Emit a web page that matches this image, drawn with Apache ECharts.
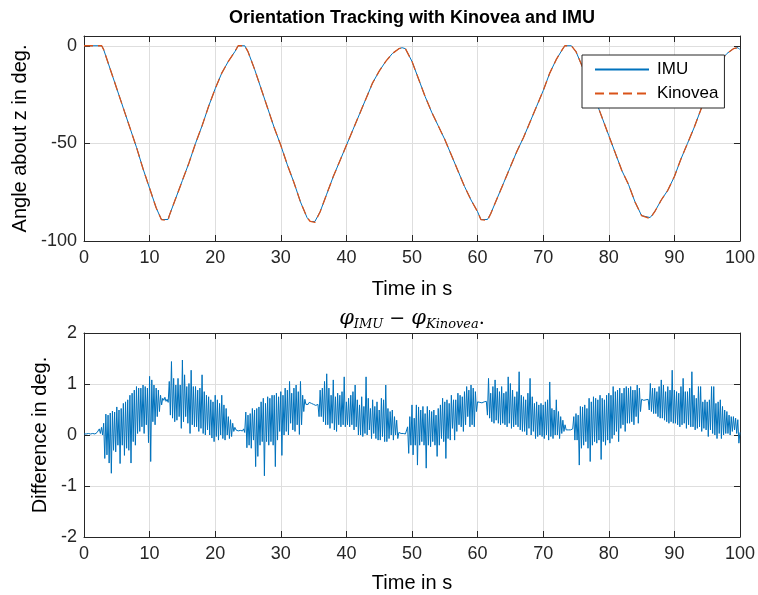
<!DOCTYPE html>
<html>
<head>
<meta charset="utf-8">
<script src="https://cdn.jsdelivr.net/npm/echarts@6/dist/echarts.min.js"></script>
<style>
  html, body { margin: 0; padding: 0; background: #fff; }
  #chart { width: 758px; height: 595px; }
</style>
</head>
<body>
<div id="chart"></div>
<script>
// orientation about z (time in s, angle in deg)
var angleTimes = [0, 2.7, 3, 4, 5, 6, 7, 8, 9, 10, 11, 11.8, 12.8, 13, 14, 15, 16, 17, 18, 19,
	20, 21, 22, 23, 23.5, 24.5, 25, 26, 27, 28, 29, 30, 31, 32, 33, 34, 34.5, 35.2, 36, 37,
	38, 39, 40, 41, 42, 43, 44, 45, 46, 47, 48, 48.5, 49, 50, 51, 52, 53, 54, 55, 56,
	57, 58, 59, 60, 60.5, 61.5, 62, 63, 64, 65, 66, 67, 68, 69, 70, 71, 72, 73, 73.3, 74.3,
	75, 76, 77, 78, 79, 80, 81, 82, 83, 84, 85, 86.3, 87, 88, 89, 90, 91, 92, 93, 94,
	95, 96, 97, 98, 99, 99.7, 100];
var imuAngle = [0, 0, -2, -12, -22, -32, -42, -52, -63, -73, -83, -89, -89, -87, -78, -69, -60, -50, -41, -31,
	-22, -14, -8, -3, 0, 0, -3, -12, -22, -32, -42, -51, -61, -70, -80, -88, -90, -90, -85, -76,
	-67, -59, -51, -43, -35, -27, -19, -13, -8, -4, -1.5, -1, -1.5, -8, -17, -26, -34, -41, -48, -56,
	-64, -72, -79, -85, -89, -89, -86, -78, -70, -62, -54, -47, -39, -31, -23, -14, -7, -1.5, 0, 0,
	-3, -11, -19, -28, -37, -46, -55, -64, -71, -80, -87, -88, -85, -79, -74, -67, -58, -50, -42, -33,
	-24, -15, -8, -4, -1.5, -1, -2];
var kinoveaAngle = [0, 0, -2, -12, -22, -32, -42, -52, -63, -73, -83, -89, -89.5, -87, -78, -69, -60, -50, -41, -31,
	-22, -14, -8, -3, 0, 0, -3, -12, -22, -32, -42, -51, -61, -70, -80, -88, -90, -90.5, -85, -76,
	-67, -59, -51, -43, -35, -27, -19, -13, -8, -4, -1.5, -1, -1.5, -8, -17, -26, -34, -41, -48, -56,
	-64, -72, -79, -85, -89, -89.5, -86, -78, -70, -62, -54, -47, -39, -31, -23, -14, -7, -1.5, 0, 0,
	-3, -11, -19, -28, -37, -46, -55, -64, -71, -80, -87, -88.5, -85, -79, -74, -67, -58, -50, -42, -33,
	-24, -15, -8, -4, -1.5, -1, -2];

// difference IMU - Kinovea, 6 samples per second, one row per second
var diffRate = 6;
var diffRows = [
	[0.02, 0.03, 0.02, 0.02, 0.03, 0.02],
	[0.02, 0.02, 0.03, 0.02, 0.02, 0.03],
	[0.05, 0.02, 0.12, 0.03, 0.15, 0.0],
	[0.23, -0.46, 0.41, -0.39, 0.39, -0.55],
	[0.43, -0.75, 0.47, -0.3, 0.45, -0.33],
	[0.55, -0.2, 0.49, -0.56, 0.52, -0.2],
	[0.62, -0.4, 0.65, -0.26, 0.69, -0.3],
	[0.78, -0.55, 0.82, -0.13, 0.88, -0.2],
	[0.95, 0.03, 0.92, 0.07, 0.92, 0.16],
	[0.98, 0.03, 0.95, 0.2, 0.92, -0.15],
	[1.15, -0.52, 1.08, 0.26, 0.98, 0.2],
	[0.92, 0.36, 0.88, 0.46, 0.78, 0.59],
	[0.72, 0.68, 0.74, 0.66, 0.7, 0.64],
	[1.05, 0.39, 1.44, 0.33, 1.11, 0.26],
	[0.98, 0.29, 1.11, 0.36, 0.98, 0.13],
	[1.47, 0.26, 1.18, 0.36, 0.95, 0.23],
	[1.01, 0.03, 1.27, 0.2, 0.95, 0.16],
	[0.95, 0.16, 0.88, 0.07, 0.92, 0.13],
	[1.18, 0.03, 0.85, 0.0, 0.78, 0.1],
	[0.75, 0.0, 0.69, -0.06, 0.65, -0.13],
	[0.78, -0.03, 0.69, -0.1, 0.62, 0.0],
	[0.78, -0.07, 0.59, -0.1, 0.52, 0.0],
	[0.36, -0.07, 0.3, -0.03, 0.23, 0.07],
	[0.15, 0.1, 0.1, 0.08, 0.1, 0.09],
	[0.1, 0.08, 0.12, 0.05, 0.45, -0.25],
	[0.39, -0.2, 0.42, -0.26, 0.52, -0.1],
	[0.49, -0.62, 0.52, -0.42, 0.55, -0.2],
	[0.65, -0.13, 0.72, -0.8, 0.62, -0.13],
	[0.75, -0.2, 0.72, -0.13, 0.78, -0.2],
	[0.78, -0.62, 0.82, -0.1, 0.75, 0.07],
	[0.85, -0.4, 0.78, 0.0, 0.92, 0.07],
	[0.88, 0.0, 1.05, 0.23, 0.82, 0.1],
	[0.92, 0.07, 0.98, 0.2, 0.85, 0.01],
	[1.05, 0.2, 0.78, 0.46, 0.7, 0.6],
	[0.62, 0.6, 0.64, 0.61, 0.62, 0.63],
	[0.6, 0.62, 0.58, 0.61, 0.6, 0.36],
	[0.88, 0.36, 0.92, 0.26, 1.05, 0.2],
	[1.2, 0.2, 0.92, 0.13, 0.78, 0.23],
	[1.08, 0.1, 0.75, 0.07, 0.82, 0.2],
	[0.78, 0.16, 0.85, 0.2, 1.14, 0.16],
	[0.65, 0.2, 0.72, 0.16, 0.78, 0.2],
	[0.85, 0.1, 0.98, 0.16, 0.69, 0.0],
	[0.59, 0.0, 0.75, -0.03, 0.56, 0.03],
	[1.14, 0.0, 0.72, 0.1, 0.52, -0.07],
	[0.69, 0.03, 0.56, -0.07, 0.65, -0.1],
	[0.49, -0.1, 0.72, -0.03, 0.69, -0.13],
	[0.98, -0.13, 0.52, -0.07, 0.46, 0.0],
	[0.49, -0.1, 0.36, 0.0, 0.29, -0.07],
	[0.05, 0.02, 0.03, 0.02, 0.03, 0.02],
	[0.02, 0.03, 0.16, -0.36, 0.36, -0.2],
	[0.59, -0.39, 0.33, -0.2, 0.59, -0.59],
	[0.55, -0.2, 0.49, -0.13, 0.56, -0.2],
	[0.42, -0.65, 0.56, -0.2, 0.49, -0.23],
	[0.46, -0.13, 0.49, -0.2, 0.39, -0.42],
	[0.52, -0.2, 0.59, -0.07, 0.72, -0.13],
	[0.65, -0.46, 0.69, -0.07, 0.62, -0.1],
	[0.78, 0.13, 0.69, -0.1, 0.69, 0.07],
	[0.82, 0.2, 0.78, 0.16, 0.75, 0.07],
	[0.85, 0.2, 0.95, 0.36, 0.88, 0.16],
	[0.98, 0.2, 0.92, 0.16, 0.85, 0.46],
	[0.65, 0.63, 0.64, 0.62, 0.63, 0.64],
	[0.65, 0.63, 0.66, 0.39, 1.11, 0.33],
	[0.82, 0.26, 0.95, 0.23, 1.08, 0.29],
	[0.92, 0.23, 0.85, 0.2, 0.95, 0.23],
	[0.82, 0.2, 0.85, 0.16, 1.14, 0.23],
	[1.01, 0.13, 0.88, 0.16, 0.75, 0.2],
	[0.85, 0.16, 1.24, 0.1, 0.78, 0.07],
	[0.75, 0.07, 0.69, 0.0, 0.82, 0.13],
	[1.11, 0.0, 0.75, 0.07, 0.62, -0.07],
	[0.65, -0.03, 0.59, 0.0, 0.62, -0.03],
	[0.59, -0.07, 0.65, 0.0, 0.69, -0.1],
	[1.04, -0.03, 0.52, -0.07, 0.49, 0.0],
	[0.69, 0.0, 0.46, -0.07, 0.36, 0.03],
	[0.29, 0.07, 0.2, 0.1, 0.12, 0.1],
	[0.12, 0.1, 0.11, 0.12, 0.36, -0.1],
	[0.42, -0.1, 0.39, -0.59, 0.56, -0.26],
	[0.55, -0.2, 0.59, -0.13, 0.52, -0.26],
	[0.72, -0.52, 0.65, -0.2, 0.75, -0.13],
	[0.72, -0.16, 0.69, -0.1, 0.78, -0.48],
	[0.72, -0.13, 0.69, -0.2, 0.78, -0.1],
	[0.82, -0.16, 0.78, -0.07, 0.95, 0.0],
	[0.85, 0.07, 0.88, -0.13, 0.92, 0.13],
	[0.82, 0.2, 0.92, 0.07, 0.95, 0.23],
	[0.92, 0.23, 0.95, 0.26, 0.88, 0.2],
	[0.88, 0.36, 0.98, 0.23, 0.92, 0.46],
	[0.7, 0.69, 0.68, 0.7, 0.69, 0.68],
	[0.7, 0.49, 1.01, 0.46, 0.92, 0.42],
	[0.92, 0.42, 0.85, 0.36, 0.95, 0.33],
	[1.08, 0.33, 0.98, 0.29, 0.85, 0.26],
	[0.95, 0.23, 0.88, 0.26, 1.27, 0.23],
	[0.88, 0.23, 0.85, 0.2, 0.82, 0.16],
	[0.95, 0.2, 1.11, 0.23, 0.85, 0.13],
	[0.85, 0.2, 0.92, 0.16, 1.24, 0.16],
	[0.78, 0.1, 0.72, 0.13, 0.95, 0.16],
	[0.95, 0.07, 0.65, 0.13, 0.69, 0.1],
	[0.65, -0.03, 0.69, 0.1, 0.95, 0.03],
	[0.95, 0.0, 0.62, -0.07, 0.65, 0.03],
	[0.69, -0.07, 0.56, 0.0, 0.49, 0.03],
	[0.46, 0.03, 0.39, 0.0, 0.36, 0.07],
	[0.36, 0.1, 0.33, 0.03, 0.3, -0.16]
];
var diffEnd = 0.05;

var xTicks = { min: 0, max: 100, interval: 10 };
var angleTicks = { min: -100, max: 5, interval: 50 };
var diffTicks = { min: -2, max: 2, interval: 1 };

var font = "'Liberation Sans', Arial, Helvetica, sans-serif";
var serif = "'DejaVu Serif', 'Liberation Serif', serif";
var ink = '#262626';
var gridColor = '#dedede';

var zip = function(xs, ys) {
	var out = [];
	for (var i = 0; i < xs.length; i++) out.push([xs[i], ys[i]]);
	return out;
};

var diffData = [];
for (var s = 0; s < diffRows.length; s++) {
	for (var k = 0; k < diffRows[s].length; k++) {
		diffData.push([s + k / diffRate, diffRows[s][k]]);
	}
}
diffData.push([diffRows.length, diffEnd]);

var axisLine = { show: true, onZero: false, lineStyle: { color: ink, width: 1 } };
var axisTick = { show: true, inside: true, length: 6, lineStyle: { color: ink, width: 1 } };

var bottomAxis = function(grid, name, gap) {
	return {
		gridIndex: grid, type: 'value', position: 'bottom',
		min: xTicks.min, max: xTicks.max, interval: xTicks.interval,
		name: name, nameLocation: 'middle', nameGap: gap,
		nameTextStyle: { fontFamily: font, fontSize: 20, color: '#000' },
		axisLine: axisLine, axisTick: axisTick,
		axisLabel: { fontFamily: font, fontSize: 18, color: ink, margin: 8 },
		splitLine: { show: true, lineStyle: { color: gridColor, width: 1 } }
	};
};
var topAxis = function(grid) {
	return {
		gridIndex: grid, type: 'value', position: 'top',
		min: xTicks.min, max: xTicks.max, interval: xTicks.interval,
		axisLine: axisLine, axisTick: axisTick,
		axisLabel: { show: false }, splitLine: { show: false }
	};
};
var leftAxis = function(grid, t, name, gap) {
	return {
		gridIndex: grid, type: 'value', position: 'left',
		min: t.min, max: t.max, interval: t.interval,
		name: name, nameLocation: 'middle', nameGap: gap,
		nameTextStyle: { fontFamily: font, fontSize: 20, color: '#000' },
		axisLine: axisLine, axisTick: axisTick,
		axisLabel: {
			fontFamily: font, fontSize: 18, color: ink, margin: 7,
			formatter: function(v) { return v % t.interval === 0 ? String(v) : ''; }
		},
		splitLine: { show: true, lineStyle: { color: gridColor, width: 1 } }
	};
};
var rightAxis = function(grid, t) {
	return {
		gridIndex: grid, type: 'value', position: 'right',
		min: t.min, max: t.max, interval: t.interval,
		axisLine: axisLine, axisTick: axisTick,
		axisLabel: { show: false }, splitLine: { show: false }
	};
};

var chart = echarts.init(document.getElementById('chart'), null, { renderer: 'canvas' });

var option = {
	animation: false,
	backgroundColor: '#fff',
	graphic: [{
		type: 'text', x: 412, y: 18,
		style: {
			text: 'Orientation Tracking with Kinovea and IMU',
			font: "bold 18px " + font, fill: '#000',
			align: 'center', verticalAlign: 'middle'
		}
	}, {
		type: 'text', x: 412, y: 319,
		style: {
			text: '{v|φ}{s|IMU}{m| − }{v|φ}{s|Kinovea}{m|.}',
			align: 'center', verticalAlign: 'middle', fill: '#000',
			rich: {
				v: { fontFamily: serif, fontStyle: 'italic', fontSize: 21, lineHeight: 24, verticalAlign: 'middle' },
				s: { fontFamily: serif, fontStyle: 'italic', fontSize: 13, lineHeight: 13, verticalAlign: 'bottom' },
				m: { fontFamily: serif, fontSize: 19, lineHeight: 24, verticalAlign: 'middle' }
			}
		}
	}],
	grid: [
		{ left: 84, right: 17, top: 36, height: 205 },
		{ left: 84, right: 17, top: 333, height: 204 }
	],
	legend: {
		data: ['IMU', 'Kinovea'],
		orient: 'vertical', left: 582, top: 55,
		itemWidth: 54, itemHeight: 14, itemGap: 7,
		padding: [6, 6, 6, 12],
		borderColor: ink, borderWidth: 1, backgroundColor: '#fff',
		itemStyle: { opacity: 0 },
		textStyle: { fontFamily: font, fontSize: 17, color: '#000', padding: [0, 0, 0, 3] }
	},
	xAxis: [bottomAxis(0, 'Time in s', 38), topAxis(0), bottomAxis(1, 'Time in s', 36), topAxis(1)],
	yAxis: [
		leftAxis(0, angleTicks, 'Angle about z in deg.', 52), rightAxis(0, angleTicks),
		leftAxis(1, diffTicks, 'Difference in deg.', 32), rightAxis(1, diffTicks)
	],
	series: [{
		name: 'IMU', type: 'line', xAxisIndex: 0, yAxisIndex: 0,
		data: zip(angleTimes, imuAngle), symbol: 'none', color: '#0072BD',
		lineStyle: { color: '#0072BD', width: 1 }
	}, {
		name: 'Kinovea', type: 'line', xAxisIndex: 0, yAxisIndex: 0,
		data: zip(angleTimes, kinoveaAngle), symbol: 'none', color: '#D95319',
		lineStyle: { color: '#D95319', width: 1.3, type: [9, 5] }
	}, {
		name: 'diff', type: 'line', xAxisIndex: 2, yAxisIndex: 2,
		data: diffData, symbol: 'none', color: '#0072BD',
		lineStyle: { color: '#0072BD', width: 1 }
	}]
};

chart.setOption(option);
</script>
</body>
</html>
